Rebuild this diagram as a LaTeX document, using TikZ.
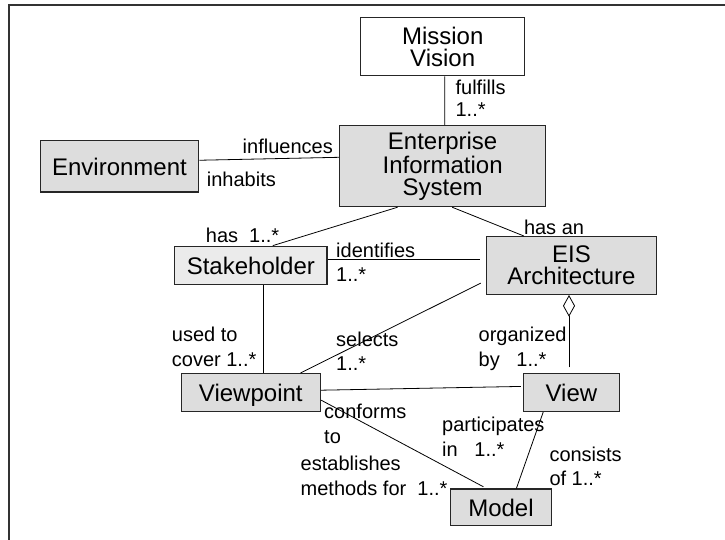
\documentclass[tikz,border=0pt]{standalone}
\usepackage{fontspec}
\setmainfont{Liberation Sans}
\usetikzlibrary{arrows.meta}

\tikzset{
  box/.style={draw=black!85, line width=1.2pt, fill=boxgray, inner sep=0pt,
    align=center, font=\fontsize{24}{22}\selectfont},
  oneline/.style={text height=18.5pt, text depth=0pt},
  lbl/.style={inner sep=0pt, anchor=base west, font=\fontsize{20}{22}\selectfont},
  lblr/.style={lbl, anchor=base east},
  link/.style={draw=black, line width=0.8pt},
  frame/.style={draw=black!80, line width=1.4pt}
}
\definecolor{boxgray}{HTML}{DDDDDD}
\definecolor{lightgray}{HTML}{EBEBEB}

\begin{document}
\begin{tikzpicture}[x=1pt, y=-1pt]
  \useasboundingbox (0,0) rectangle (725,540);
  \draw[frame] (725,5) -- (9,5) -- (9,540);

  % classes
  \node[box, fill=white, minimum width=164.2pt, minimum height=58.6pt] (mission) at (442.7,46.5) {Mission\\Vision};
  \node[box, minimum width=205.7pt, minimum height=80.9pt] (eis) at (442.65,166.15) {Enterprise\\Information\\System};
  \node[box, oneline, minimum width=158.6pt, minimum height=51.9pt] (env) at (119.5,166.15) {Environment};
  \node[box, oneline, fill=lightgray, minimum width=152.1pt, minimum height=38.2pt] (stake) at (250.85,265.3) {Stakeholder};
  \node[box, minimum width=170.1pt, minimum height=57.8pt] (arch) at (571.45,265.5) {EIS\\Architecture};
  \node[box, oneline, minimum width=139.2pt, minimum height=37.9pt] (vp) at (250.8,392.55) {Viewpoint};
  \node[box, oneline, minimum width=96.2pt, minimum height=37.9pt] (view) at (571.4,392.55) {View};
  \node[box, oneline, minimum width=100.3pt, minimum height=36.5pt] (model) at (500.95,507.25) {Model};

  % associations
  \draw[link] ([xshift=2pt]mission.south) -- ([xshift=2pt]eis.north);
  \draw[link] ([yshift=5.9pt]env.east) -- ([yshift=8.85pt]eis.west);
  \draw[link] ([xshift=-45pt]eis.south) -- ([xshift=22pt]stake.north);
  \draw[link] ([xshift=9.5pt]eis.south) -- ([xshift=-47.6pt]arch.north);
  \draw[link, shorten >=5.6pt] ([yshift=6.3pt]stake.east) -- ([yshift=6.5pt]arch.west);
  \draw[link] ([xshift=12.65pt]stake.south) -- ([xshift=12.7pt]vp.north);
  \draw[link, shorten <=5.6pt] ([yshift=-15.1pt]arch.west) -- ([xshift=49.7pt]vp.north);
  \draw[link, shorten <=5.6pt, -{Diamond[open, length=21.7pt, width=12pt, line width=0.8pt]}]
    ([xshift=-2.4pt]view.north) -- ([xshift=-2.45pt]arch.south);
  \draw[link, shorten >=1.8pt] ([yshift=2.35pt]vp.east) -- ([yshift=6.15pt]view.west);
  \draw[link, shorten >=3.5pt] ([yshift=-7.55pt]vp.east) -- ([xshift=-14.5pt]model.north);
  \draw[link] ([xshift=-28.2pt]view.south) -- ([xshift=15.45pt]model.north);

  % role names and multiplicities
  \node[lbl] (l1) at (455.4,95) {fulfills};
  \node[lbl] (l2) at (455.4,117) {1..*};
  \node[lblr] (l3) at (333,153.7) {influences};
  \node[lbl] (l4) at (206.7,187) {inhabits};
  \node[lbl] (l5) at (205.7,242.7) {has\ \ 1..*};
  \node[lbl] (l6) at (523.8,234) {has an};
  \node[lbl] (l7) at (336,257.7) {identifies};
  \node[lbl] (l8) at (336,281) {1..*};
  \node[lbl] (l9) at (171.7,341.7) {used to};
  \node[lbl] (l10) at (171.7,366) {cover 1..*};
  \node[lbl] (l11) at (336,346) {selects};
  \node[lbl] (l12) at (336,370) {1..*};
  \node[lbl] (l13) at (478.5,341.7) {organized};
  \node[lbl] (l14) at (478.5,366) {by\ \ \ 1..*};
  \node[lbl] (l15) at (324,418) {conforms};
  \node[lbl] (l16) at (324,443) {to};
  \node[lbl] (l17) at (300.5,470) {establishes};
  \node[lbl] (l18) at (300.5,495) {methods for\ \ 1..*};
  \node[lbl] (l19) at (442,431.7) {participates};
  \node[lbl] (l20) at (442,456) {in\ \ \ 1..*};
  \node[lbl] (l21) at (549.3,461.7) {consists};
  \node[lbl] (l22) at (549.3,485) {of 1..*};
\end{tikzpicture}
\end{document}
